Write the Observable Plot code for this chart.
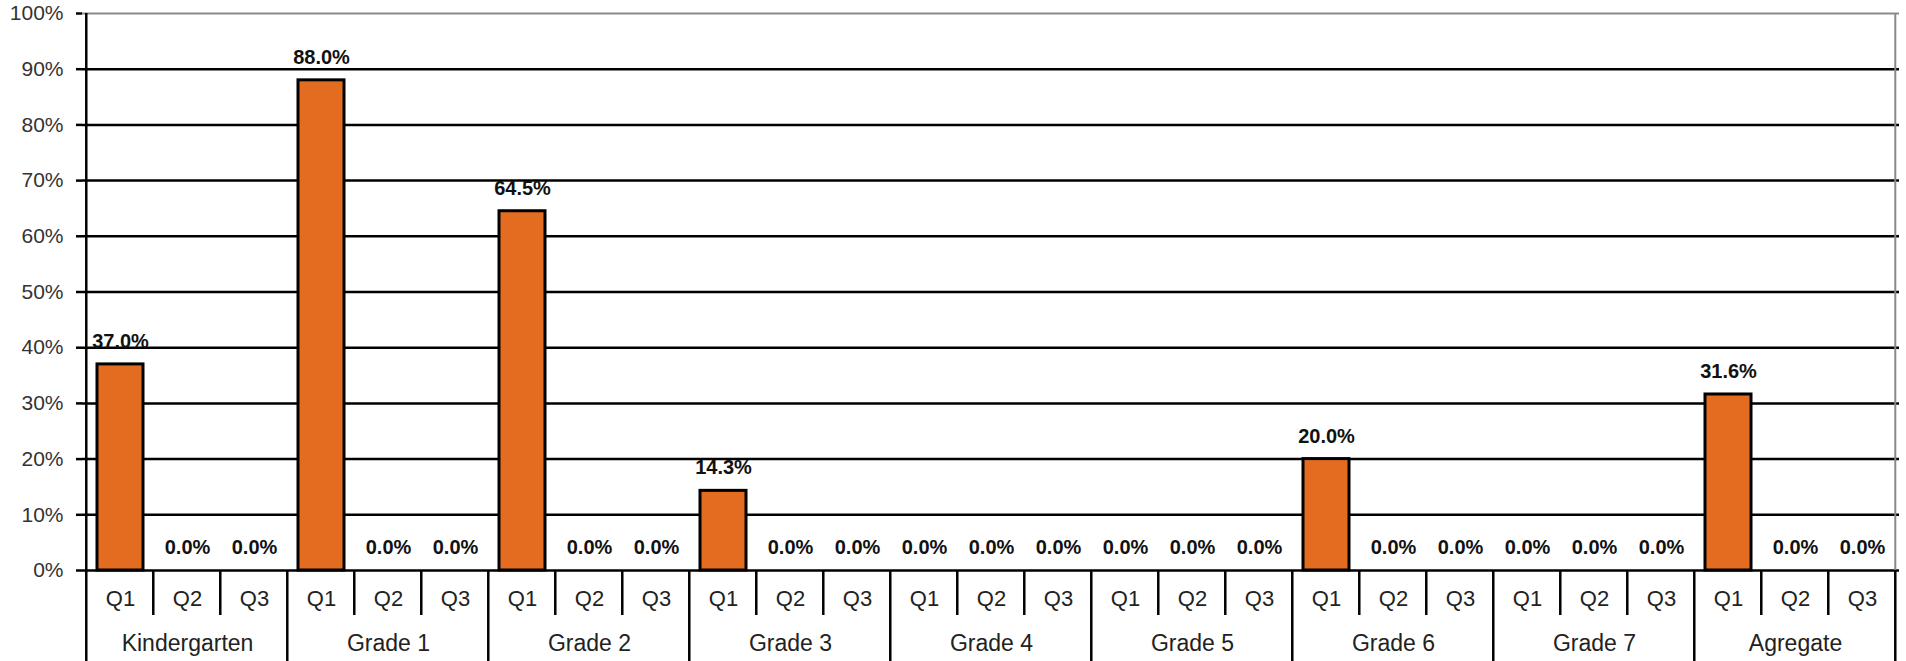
<!DOCTYPE html>
<html><head><meta charset="utf-8">
<script src="https://cdn.jsdelivr.net/npm/d3@7"></script>
<script src="https://cdn.jsdelivr.net/npm/@observablehq/plot@0.6"></script>
<style>html,body{margin:0;padding:0;background:#fff;} svg{display:block}</style>
</head><body><div id="chart"></div>
<script>
const groups = ["Kindergarten","Grade 1","Grade 2","Grade 3","Grade 4","Grade 5","Grade 6","Grade 7","Agregate"];
const quarters = ["Q1","Q2","Q3"];
const q1Values = [0.370, 0.880, 0.645, 0.143, 0.000, 0.000, 0.200, 0.000, 0.316];
const q2Values = [0, 0, 0, 0, 0, 0, 0, 0, 0];
const q3Values = [0, 0, 0, 0, 0, 0, 0, 0, 0];
const yTicks = [0, 0.1, 0.2, 0.3, 0.4, 0.5, 0.6, 0.7, 0.8, 0.9, 1.0];

const series = [q1Values, q2Values, q3Values];
const data = [];
groups.forEach((g, gi) => quarters.forEach((q, qi) => data.push({key: g + "|" + q, group: g, q, value: series[qi][gi]})));
const keys = data.map(d => d.key);

const font = "'Liberation Sans', Arial, Helvetica, sans-serif";
const H = 661;
const pIn = 0.32;
const chart = Plot.plot({
  width: 1906, height: H,
  marginLeft: 82, marginRight: 7, marginTop: 13, marginBottom: 91,
  x: {domain: keys, paddingInner: pIn, paddingOuter: pIn / 2, axis: null, label: null},
  y: {domain: [0, 1], axis: null, label: null},
  style: {fontFamily: font, background: "white", overflow: "visible"},
  marks: [
    Plot.gridY(yTicks.filter(d => d < 1), {stroke: "#000", strokeOpacity: 1, strokeWidth: 2.5}),
    Plot.ruleY([1], {stroke: "#8a8a8a", strokeWidth: 2}),
    Plot.axisY({ticks: yTicks, tickFormat: d3.format(".0%"), tickSize: 6, tickPadding: 13, fontSize: 21, color: "#333", stroke: "#000", strokeWidth: 2.5, label: null}),
    Plot.barY(data, {x: "key", y: "value", fill: "#E36C21", stroke: "#000", strokeWidth: 3}),
    Plot.text(data, {x: "key", y: "value", text: d => d3.format(".1%")(d.value), dy: -23, fontWeight: "bold", fontSize: 20, fill: "#111"}),
    Plot.axisX({tickFormat: k => k.split("|")[1], tickSize: 0, tickPadding: 20, fontSize: 22, color: "#222", label: null}),
    Plot.text(groups, {x: g => g + "|Q2", y: () => 0, dy: 73, fontSize: 23, fill: "#222"})
  ]
});
document.getElementById("chart").appendChild(chart);

// separators drawn from the plot's own scales
const xs = chart.scale("x"), ys = chart.scale("y");
const step = xs.step, outer = (pIn / 2) * step;
const svg = d3.select(chart);
const sep = svg.append("g").attr("stroke", "#000").attr("stroke-width", 2.5);
const y0 = ys.apply(0), y1 = ys.apply(1);
keys.forEach((k, i) => {
  const x = xs.apply(k) - outer;
  const big = i % 3 === 0;
  sep.append("line").attr("x1", x).attr("x2", x)
    .attr("y1", i === 0 ? y1 : y0).attr("y2", big ? H : y0 + 45);
});
const xr = xs.apply(keys[keys.length - 1]) - outer + step;
sep.append("line").attr("x1", xr).attr("x2", xr).attr("y1", y1).attr("y2", y0).attr("stroke", "#8a8a8a").attr("stroke-width", 2);
sep.append("line").attr("x1", xr).attr("x2", xr).attr("y1", y0).attr("y2", H);
</script>
</body></html>
